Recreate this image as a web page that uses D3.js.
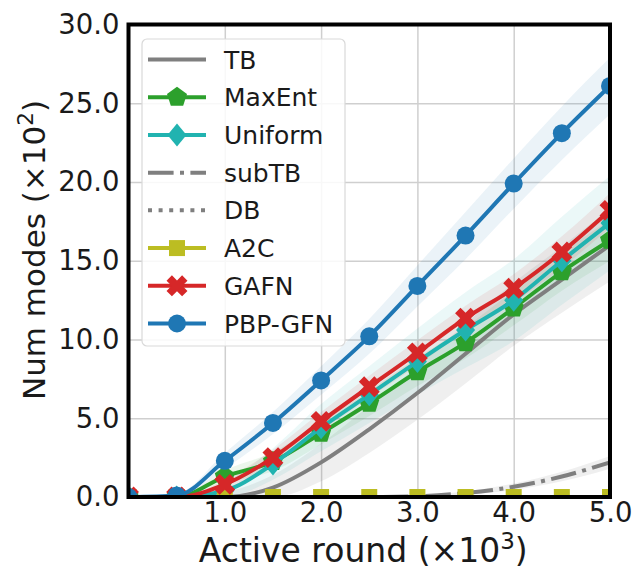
<!DOCTYPE html>
<html>
<head>
<meta charset="utf-8">
<script src="https://cdn.jsdelivr.net/npm/d3@7"></script>
<style>
  html, body { margin: 0; padding: 0; background: #fff; }
  svg { display: block; }
  text { font-family: "DejaVu Sans", sans-serif; fill: #1a1a1a; }
</style>
</head>
<body>
<svg id="chart" width="638" height="571"></svg>
<script>
// ---- data (x in thousands of rounds, y in hundreds of modes) ----
const rounds = [0, 0.5, 1.0, 1.5, 2.0, 2.5, 3.0, 3.5, 4.0, 4.5, 5.0];

const tb      = [0, 0, 0.0, 0.6, 2.2, 4.3, 6.6, 9.1, 11.6, 13.8, 16.0];
const maxEnt  = [0, 0, 1.3, 2.25, 4.05, 5.95, 7.95, 9.8, 12.0, 14.3, 16.3];
const uniform = [0, 0, 0.4, 2.1, 4.4, 6.5, 8.6, 10.6, 12.5, 15.0, 17.4];
const subTB   = [0, 0, 0, 0, 0, 0, 0.05, 0.25, 0.65, 1.3, 2.2];
const db      = [0, 0, 0, 0, 0, 0, 0, 0, 0, 0, 0];
const a2c     = [0, 0, 0, 0, 0, 0, 0, 0, 0, 0, 0];
const gafn    = [0, 0, 0.8, 2.5, 4.8, 7.0, 9.15, 11.35, 13.25, 15.55, 18.2];
const pbpGfn  = [0, 0.1, 2.3, 4.7, 7.4, 10.2, 13.4, 16.6, 19.9, 23.1, 26.1];

// half-width of the shaded band around each series
const tbSd      = [0, 0, 0.3, 0.8, 1.2, 1.5, 1.7, 1.9, 2.0, 2.1, 2.3];
const maxEntSd  = [0, 0, 0.4, 0.6, 0.7, 0.8, 0.9, 1.0, 1.1, 1.2, 1.3];
const uniformSd = [0, 0, 0.5, 1.0, 1.5, 1.8, 2.1, 2.4, 2.6, 2.8, 3.0];
const subTBSd   = [0, 0, 0, 0, 0, 0, 0.05, 0.1, 0.2, 0.3, 0.4];
const zeroSd    = [0, 0, 0, 0, 0, 0, 0, 0, 0, 0, 0];
const gafnSd    = [0, 0, 0.3, 0.5, 0.6, 0.7, 0.8, 0.8, 0.9, 1.0, 1.1];
const pbpGfnSd  = [0, 0.1, 0.5, 0.7, 0.9, 1.1, 1.3, 1.5, 1.6, 1.7, 1.8];

const seriesNames = ["TB", "MaxEnt", "Uniform", "subTB", "DB", "A2C", "GAFN", "PBP-GFN"];
const xTicks = [1, 2, 3, 4, 5];
const yTicks = [0, 5, 10, 15, 20, 25, 30];

// ---- styles ----
const series = [
  {name: seriesNames[0], v: tb,      sd: tbSd,      color: "#7f7f7f", dash: null, marker: null},
  {name: seriesNames[1], v: maxEnt,  sd: maxEntSd,  color: "#2ca02c", dash: null, marker: "pentagon"},
  {name: seriesNames[2], v: uniform, sd: uniformSd, color: "#21b3b0", dash: null, marker: "diamond"},
  {name: seriesNames[3], v: subTB,   sd: subTBSd,   color: "#7f7f7f", dash: "25.6,6.4,4,6.4", marker: null},
  {name: seriesNames[4], v: db,      sd: zeroSd,    color: "#7f7f7f", dash: "4,6.6", marker: null},
  {name: seriesNames[5], v: a2c,     sd: zeroSd,    color: "#bcbd22", dash: null, marker: "square"},
  {name: seriesNames[6], v: gafn,    sd: gafnSd,    color: "#d62728", dash: null, marker: "x"},
  {name: seriesNames[7], v: pbpGfn,  sd: pbpGfnSd,  color: "#1f77b4", dash: null, marker: "circle"}
];

const svg = d3.select("#chart");
const L = 128.5, R = 610, T = 24.5, B = 497;

const x = d3.scaleLinear().domain([0, 5]).range([L, R]);
const y = d3.scaleLinear().domain([0, 30]).range([B, T]);

// clip
svg.append("defs").append("clipPath").attr("id", "plotclip")
  .append("rect").attr("x", L).attr("y", T).attr("width", R - L).attr("height", B - T);

// grid
const grid = svg.append("g");
grid.append("g").attr("transform", `translate(0,${B})`)
  .call(d3.axisBottom(x).tickValues(xTicks).tickSize(-(B - T)).tickFormat(""))
  .call(g => g.select(".domain").remove())
  .call(g => g.selectAll("line").attr("stroke", "#cfcfcf").attr("stroke-width", 1.5));
grid.append("g").attr("transform", `translate(${L},0)`)
  .call(d3.axisLeft(y).tickValues(yTicks).tickSize(-(R - L)).tickFormat(""))
  .call(g => g.select(".domain").remove())
  .call(g => g.selectAll("line").attr("stroke", "#cfcfcf").attr("stroke-width", 1.5));

// marker paths
function markerPath(type) {
  if (type === "circle") return d3.symbol(d3.symbolCircle, Math.PI * 9 * 9)();
  if (type === "square") { const s = 8; return `M${-s},${-s}H${s}V${s}H${-s}Z`; }
  if (type === "diamond") { const w = 9.5, h = 11.5; return `M0,${-h}L${w},0L0,${h}L${-w},0Z`; }
  if (type === "pentagon") {
    const r = 10.5; const pts = d3.range(5).map(k => {
      const a = (-90 + 72 * k) * Math.PI / 180; return [r * Math.cos(a), r * Math.sin(a)]; });
    return "M" + pts.map(p => p.join(",")).join("L") + "Z";
  }
  if (type === "x") {
    const r = 11, w = 3.8;
    const pts = [[-w,-r],[w,-r],[w,-w],[r,-w],[r,w],[w,w],[w,r],[-w,r],[-w,w],[-r,w],[-r,-w],[-w,-w]];
    const c = Math.cos(Math.PI / 4), s = Math.sin(Math.PI / 4);
    return "M" + pts.map(([a, b]) => [a * c - b * s, a * s + b * c].join(",")).join("L") + "Z";
  }
  return null;
}

const plot = svg.append("g").attr("clip-path", "url(#plotclip)");

// bands
series.forEach(s => {
  const area = d3.area().curve(d3.curveMonotoneX)
    .x((d, i) => x(rounds[i]))
    .y0((d, i) => y(Math.max(0, s.v[i] - s.sd[i])))
    .y1((d, i) => y(s.v[i] + s.sd[i]));
  plot.append("path").datum(s.v).attr("d", area)
    .attr("fill", s.color).attr("fill-opacity", s.color === "#7f7f7f" ? 0.12 : 0.09).attr("stroke", "none");
});

// lines + markers
series.forEach(s => {
  const line = d3.line().curve(d3.curveMonotoneX).x((d, i) => x(rounds[i])).y(d => y(d));
  plot.append("path").datum(s.v).attr("d", line)
    .attr("fill", "none").attr("stroke", s.color).attr("stroke-width", 4)
    .attr("stroke-dasharray", s.dash).attr("stroke-linecap", s.dash ? "butt" : "round")
    .attr("stroke-linejoin", "round");
  if (s.marker) {
    const p = markerPath(s.marker);
    plot.append("g").selectAll("path").data(s.v).join("path")
      .attr("d", p)
      .attr("transform", (d, i) => `translate(${x(rounds[i])},${y(d)})`)
      .attr("fill", s.color);
  }
});

// frame
svg.append("rect").attr("x", L).attr("y", T).attr("width", R - L).attr("height", B - T)
  .attr("fill", "none").attr("stroke", "#000").attr("stroke-width", 4);

// tick labels
const yAx = svg.append("g").attr("transform", `translate(${L},0)`)
  .call(d3.axisLeft(y).tickValues(yTicks).tickSize(0).tickPadding(9).tickFormat(d3.format(".1f")));
yAx.select(".domain").remove();
yAx.selectAll("text").attr("font-size", 27.5).attr("font-family", "DejaVu Sans").attr("fill", "#1a1a1a");

const xAx = svg.append("g").attr("transform", `translate(0,${B})`)
  .call(d3.axisBottom(x).tickValues(xTicks).tickSize(0).tickPadding(5).tickFormat(d3.format(".1f")));
xAx.select(".domain").remove();
xAx.selectAll("text").attr("font-size", 27.5).attr("font-family", "DejaVu Sans").attr("fill", "#1a1a1a");

// axis labels
const xl = svg.append("text").attr("x", (L + R) / 2 - 6).attr("y", 562)
  .attr("text-anchor", "middle").attr("font-size", 33);
xl.append("tspan").text("Active round (×10");
xl.append("tspan").attr("font-size", 23).attr("dy", -13).text("3");
xl.append("tspan").attr("dy", 13).text(")");

const yl = svg.append("text").attr("transform", `translate(45,${250}) rotate(-90)`)
  .attr("text-anchor", "middle").attr("font-size", 31);
yl.append("tspan").text("Num modes (×10");
yl.append("tspan").attr("font-size", 21.5).attr("dy", -12).text("2");
yl.append("tspan").attr("dy", 12).text(")");

// legend
const lg = svg.append("g");
lg.append("rect").attr("x", 142).attr("y", 39).attr("width", 203).attr("height", 307)
  .attr("rx", 5).attr("fill", "#fff").attr("fill-opacity", 0.85)
  .attr("stroke", "#d9d9d9").attr("stroke-width", 1.2);
const rowY = d3.scaleLinear().domain([0, 7]).range([59.5, 323.5]);
series.forEach((s, i) => {
  const yy = rowY(i);
  lg.append("line").attr("x1", 148).attr("x2", 206).attr("y1", yy).attr("y2", yy)
    .attr("stroke", s.color).attr("stroke-width", 4).attr("stroke-dasharray", s.dash);
  if (s.marker) lg.append("path").attr("d", markerPath(s.marker))
    .attr("transform", `translate(177,${yy})`).attr("fill", s.color);
  lg.append("text").attr("x", 224).attr("y", yy).attr("dy", "0.36em")
    .attr("font-size", 25).text(s.name);
});
</script>
</body>
</html>
